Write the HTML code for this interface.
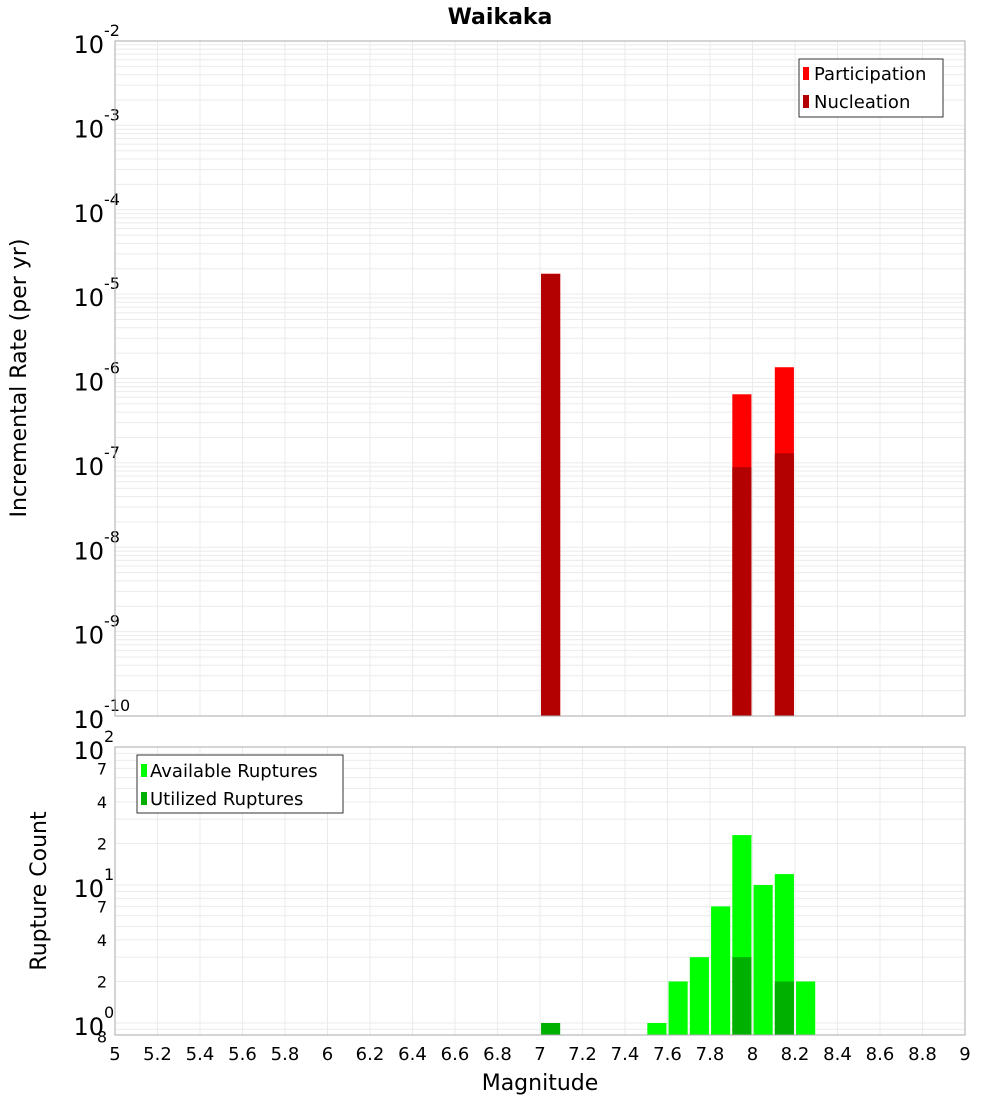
<!DOCTYPE html>
<html><head><meta charset="utf-8"><style>
body{margin:0;background:#fff;font-family:"DejaVu Sans","Liberation Sans",sans-serif;}
</style></head><body>
<svg id="c" width="1000" height="1100" xmlns="http://www.w3.org/2000/svg">
<text x="500" y="24" text-anchor="middle" font-size="22" font-weight="bold">Waikaka</text>
<g id="topPanel"></g>
<g id="botPanel"></g>
<text transform="translate(26,378) rotate(-90)" text-anchor="middle" font-size="22">Incremental Rate (per yr)</text>
<text transform="translate(46,891) rotate(-90)" text-anchor="middle" font-size="22">Rupture Count</text>
<text x="540" y="1090" text-anchor="middle" font-size="22">Magnitude</text>
<g id="leg1">
<rect x="799" y="59" width="144" height="58" fill="#fff" stroke="#333"/>
<rect x="803" y="67" width="6" height="13" fill="#ff0000"/>
<text x="814" y="80" font-size="18">Participation</text>
<rect x="803" y="95" width="6" height="13" fill="#b30000"/>
<text x="814" y="108" font-size="18">Nucleation</text>
</g>
<g id="leg2">
<rect x="137" y="755" width="206" height="58" fill="#fff" stroke="#333"/>
<rect x="141" y="764" width="6" height="13" fill="#00ff00"/>
<text x="150" y="777" font-size="18">Available Ruptures</text>
<rect x="141" y="792" width="6" height="13" fill="#00b000"/>
<text x="150" y="805" font-size="18">Utilized Ruptures</text>
</g>
</svg>
<script>
const rateMags=[7.05,7.95,8.15];
const partRates=[1.74e-5,6.5e-7,1.36e-6];
const nuclRates=[1.74e-5,8.9e-8,1.3e-7];
const availMags=[7.55,7.65,7.75,7.85,7.95,8.05,8.15,8.25];
const availCounts=[1,2,3,7,23,10,12,2];
const usedMags=[7.05,7.95,8.15];
const usedCounts=[1,3,2];
const xTicks=[5,5.2,5.4,5.6,5.8,6,6.2,6.4,6.6,6.8,7,7.2,7.4,7.6,7.8,8,8.2,8.4,8.6,8.8,9];

const NS="http://www.w3.org/2000/svg";
const X0=115,X1=965;
const xs=m=>X0+(m-5)/4*(X1-X0);
const T0=41,T1=716;
const yt=v=>T1-(Math.log10(v)+10)/8*(T1-T0);
const B0=747,B1=1035;
const yb=v=>1023-138*Math.log10(v);
function mk(p,tag,a){const e=document.createElementNS(NS,tag);for(const k in a)e.setAttribute(k,a[k]);p.appendChild(e);return e;}
const topG=document.getElementById('topPanel'),botG=document.getElementById('botPanel');
for(const t of xTicks){
 const g1=mk(topG,'line',{x1:xs(t),x2:xs(t),y1:T0,y2:T1,stroke:'#ebebeb'});
 
 
 const g2=mk(botG,'line',{x1:xs(t),x2:xs(t),y1:B0,y2:B1,stroke:'#ebebeb'});
 
 
 const lb=mk(botG,'text',{x:xs(t),y:1060,'text-anchor':'middle','font-size':18});
 lb.textContent=String(t);
 
 
}
for(let e=-10;e<-2;e++)for(let k=1;k<10;k++){
 const y=yt(k*Math.pow(10,e));
 const l=mk(topG,'line',{x1:X0,x2:X1,y1:y,y2:y,stroke:'#ebebeb'});
 
 
}
for(let e=-10;e<=-2;e++){
 const y=yt(Math.pow(10,e));
 const t=mk(topG,'text',{x:104,y:y+12,'text-anchor':'end','font-size':24});
 t.textContent='10';
 
 
 const s=mk(topG,'text',{x:104,y:y-5,'font-size':16});
 s.textContent=String(e);
 
 
}
for(const e of [-1,0,1])for(let k=1;k<10;k++){
 const v=k*Math.pow(10,e);const y=yb(v);
 if(y<B0-0.5||y>B1+0.5)continue;
 const l=mk(botG,'line',{x1:X0,x2:X1,y1:y,y2:y,stroke:'#ebebeb'});
 
 
}
for(const e of [0,1,2]){
 const y=yb(Math.pow(10,e));
 const t=mk(botG,'text',{x:104,y:y+12,'text-anchor':'end','font-size':24});
 t.textContent='10';
 
 
 const s=mk(botG,'text',{x:104,y:y-5,'font-size':16});
 s.textContent=String(e);
 
 
}
for(const v of [0.8,2,4,7,20,40,70]){
 const t=mk(botG,'text',{x:107,y:yb(v)+6,'text-anchor':'end','font-size':16});
 t.textContent=String(v>=10?v/10:(v<1?8:v));
 
 
}
function bar(p,m,v,y,base,fill,name){
 const x=xs(m-0.045),w=xs(m+0.045)-x,yy=y(v);
 const r=mk(p,'rect',{x:x,y:yy,width:w,height:base-yy,fill:fill});
 
 
}
rateMags.forEach((m,i)=>bar(topG,m,partRates[i],yt,T1,'#ff0000','participation-bar'));
rateMags.forEach((m,i)=>bar(topG,m,nuclRates[i],yt,T1,'#b30000','nucleation-bar'));
availMags.forEach((m,i)=>bar(botG,m,availCounts[i],yb,B1,'#00ff00','available-bar'));
usedMags.forEach((m,i)=>bar(botG,m,usedCounts[i],yb,B1,'#00b000','utilized-bar'));
const f1=mk(topG,'rect',{x:X0,y:T0,width:X1-X0,height:T1-T0,fill:'none',stroke:'#aaa'});


const f2=mk(botG,'rect',{x:X0,y:B0,width:X1-X0,height:B1-B0,fill:'none',stroke:'#aaa'});


const svgEl=document.getElementById('c');
svgEl.appendChild(document.getElementById('leg1'));
svgEl.appendChild(document.getElementById('leg2'));
</script>
</body></html>
